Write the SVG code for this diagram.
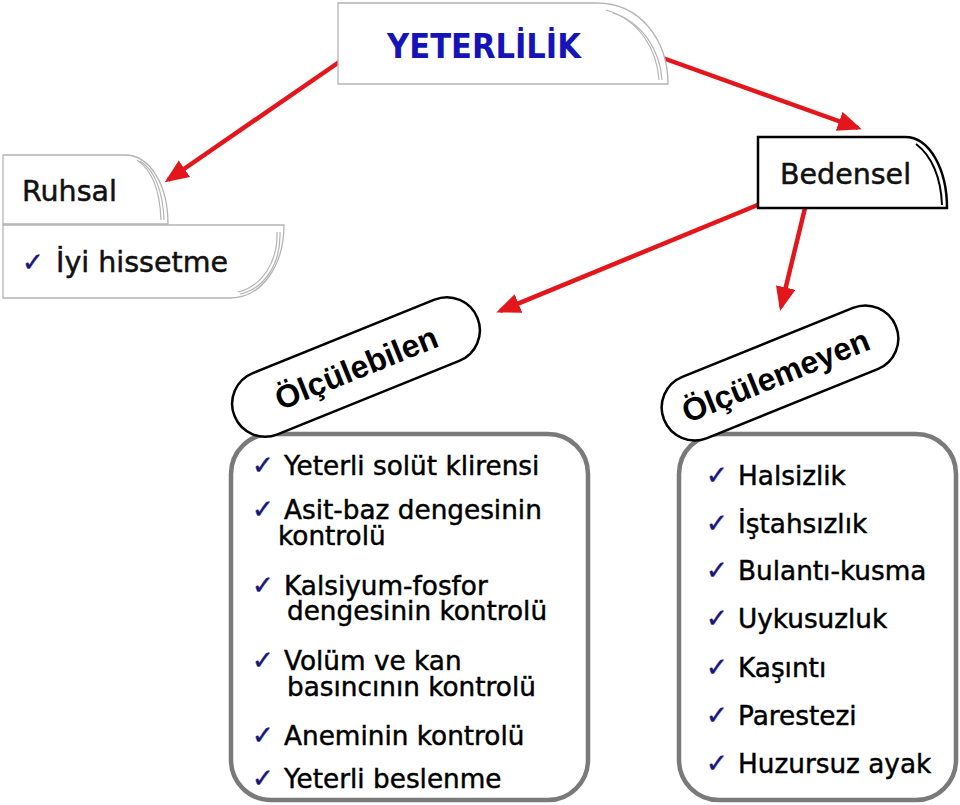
<svg xmlns="http://www.w3.org/2000/svg" width="960" height="805" viewBox="0 0 960 805">
<defs>
<marker id="ah" markerUnits="userSpaceOnUse" markerWidth="26" markerHeight="22" refX="20" refY="10" orient="auto">
<path d="M0,0 L24,10 L0,20 Z" fill="#e3161c"/>
</marker>
<style>
.lbl{font-family:"DejaVu Sans",Verdana,sans-serif;font-size:28.5px;fill:#111;stroke:#111;stroke-width:0.5}
.tab{fill:#fff;stroke:#b4b4b4;stroke-width:1.3}
.fold{fill:none;stroke:#b4b4b4;stroke-width:1.2}
.pill{fill:#fff;stroke:#000;stroke-width:2.5}
.ptxt{font-family:"Liberation Sans",Arial,sans-serif;font-weight:bold;font-size:32px;fill:#000}
.list{fill:#fff;stroke:#7a7a7a;stroke-width:4.5}
.it{font-family:"DejaVu Sans",Verdana,sans-serif;font-size:26.3px;fill:#000;stroke:#000;stroke-width:0.45}
.ck{font-family:"DejaVu Sans",sans-serif;font-size:26px;fill:#15157a;stroke:#15157a;stroke-width:0.5}
.conn{stroke:#e3161c;stroke-width:4.5;fill:none;marker-end:url(#ah)}
</style>
</defs>
<rect width="960" height="805" fill="#fff"/>

<g id="connectors">
<line class="conn" x1="345" y1="58" x2="168" y2="180"/>
<line class="conn" x1="660" y1="57" x2="858" y2="128"/>
<line class="conn" x1="760" y1="204" x2="500" y2="311"/>
<line class="conn" x1="805" y1="208" x2="781" y2="307"/>
</g>

<g id="yeterlilik">
<path class="tab" d="M338,3 H597 C640,3 668,40 668,84 H338 Z"/>
<path class="fold" d="M613,13 C642,22 660,50 662,80"/>
<path class="fold" d="M606,10 C640,20 657,50 659,80"/>
<text x="484" y="58" text-anchor="middle" style="font-family:'DejaVu Sans Condensed','DejaVu Sans',sans-serif;font-stretch:condensed;font-weight:bold;font-size:34px;fill:#1414b8">YETERLİLİK</text>
</g>

<g id="ruhsal">
<path class="tab" d="M3,155 H125 C150,155 168,185 168,224 H3 Z"/>
<path class="fold" d="M140,161 C155,170 163,192 164,220"/>
<path class="fold" d="M137,160 C152,170 160,192 161,220"/>
<text class="lbl" x="22" y="201">Ruhsal</text>
</g>

<g id="iyi-hissetme">
<path class="tab" d="M3,225 H284 C284,265 262,298 230,298 H3 Z"/>
<path class="fold" d="M277,232 C278,262 262,286 238,292"/>
<path class="fold" d="M280,232 C281,264 264,289 240,294"/>
<text class="ck" x="22" y="271">✓</text>
<text class="lbl" x="56" y="272">İyi hissetme</text>
</g>

<g id="bedensel">
<path d="M758,137 H905 C930,137 947,170 947,208 H758 Z" fill="#fff" stroke="#000" stroke-width="2.5"/>
<path d="M916,144 C932,156 941,178 942,205" fill="none" stroke="#000" stroke-width="2"/>
<text class="lbl" x="780" y="184">Bedensel</text>
</g>

<g id="olculebilen-list">
<rect class="list" x="231" y="434" width="357" height="366" rx="40"/>
<text class="ck" x="252" y="474">✓</text><text class="it" x="284" y="475">Yeterli solüt klirensi</text>
<text class="ck" x="252" y="518">✓</text><text class="it" x="284" y="519">Asit-baz dengesinin<tspan x="278" y="545">kontrolü</tspan></text>
<text class="ck" x="252" y="594">✓</text><text class="it" x="284" y="595">Kalsiyum-fosfor<tspan x="287" y="620">dengesinin kontrolü</tspan></text>
<text class="ck" x="252" y="669">✓</text><text class="it" x="284" y="670">Volüm ve kan<tspan x="287" y="696">basıncının kontrolü</tspan></text>
<text class="ck" x="252" y="744">✓</text><text class="it" x="284" y="745">Aneminin kontrolü</text>
<text class="ck" x="252" y="787">✓</text><text class="it" x="284" y="788">Yeterli beslenme</text>
</g>

<g id="olculemeyen-list">
<rect class="list" x="679" y="434" width="277" height="366" rx="40"/>
<text class="ck" x="706" y="484">✓</text><text class="it" x="738" y="485">Halsizlik</text>
<text class="ck" x="706" y="532">✓</text><text class="it" x="738" y="533">İştahsızlık</text>
<text class="ck" x="706" y="579">✓</text><text class="it" x="738" y="580">Bulantı-kusma</text>
<text class="ck" x="706" y="627">✓</text><text class="it" x="738" y="628">Uykusuzluk</text>
<text class="ck" x="706" y="676">✓</text><text class="it" x="738" y="677">Kaşıntı</text>
<text class="ck" x="706" y="724">✓</text><text class="it" x="738" y="725">Parestezi</text>
<text class="ck" x="706" y="772">✓</text><text class="it" x="738" y="773">Huzursuz ayak</text>
</g>

<g id="olculebilen" transform="translate(356,367) rotate(-22)">
<rect class="pill" x="-131" y="-33" width="262" height="66" rx="33"/>
<text class="ptxt" x="0" y="12" text-anchor="middle">Ölçülebilen</text>
</g>

<g id="olculemeyen" transform="translate(780,373) rotate(-22)">
<rect class="pill" x="-125" y="-33" width="250" height="66" rx="33"/>
<text class="ptxt" x="-5" y="12" text-anchor="middle" font-size="33">Ölçülemeyen</text>
</g>
</svg>
